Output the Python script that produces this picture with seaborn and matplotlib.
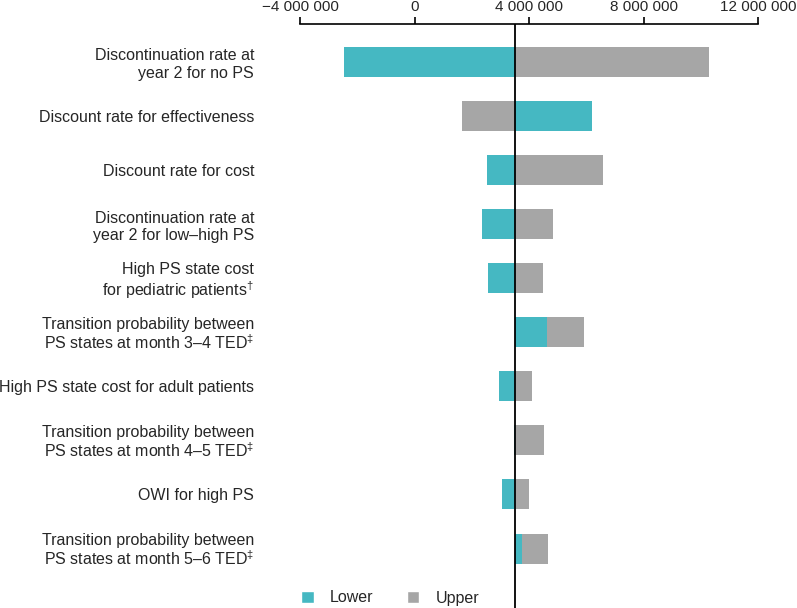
import pandas as pd
import seaborn as sns
import matplotlib.pyplot as plt
from matplotlib.patches import Patch
from matplotlib.ticker import FuncFormatter

# Tornado data (ICER values)
params = [
    'Discontinuation rate at\nyear 2 for no PS',
    'Discount rate for effectiveness',
    'Discount rate for cost',
    'Discontinuation rate at\nyear 2 for low\u2013high PS',
    'High PS state cost\nfor pediatric patients$^{\u2020}$',
    'Transition probability between\nPS states at month 3\u20134 TED$^{\u2021}$',
    'High PS state cost for adult patients',
    'Transition probability between\nPS states at month 4\u20135 TED$^{\u2021}$',
    'OWI for high PS',
    'Transition probability between\nPS states at month 5\u20136 TED$^{\u2021}$',
]
lower = [-2460000, 6200000, 2530000, 2360000, 2580000, 4640000, 2940000, 3470000, 3060000, 3770000]
upper = [10290000, 1660000, 6590000, 4840000, 4480000, 5910000, 4120000, 4510000, 4010000, 4650000]
base = 3520000

tick_vals = [-4000000, 0, 4000000, 8000000, 12000000]

cyan = '#45B8C2'
gray = '#A6A6A6'

df = pd.DataFrame({'param': params, 'lower': lower, 'upper': upper})
df['d_lower'] = df['lower'] - base
df['d_upper'] = df['upper'] - base

sns.set_style('white')
plt.rcParams['font.family'] = ['Liberation Sans', 'DejaVu Sans']
plt.rcParams['mathtext.fontset'] = 'custom'
plt.rcParams['mathtext.rm'] = 'Liberation Sans'
plt.rcParams['mathtext.it'] = 'Liberation Sans'
plt.rcParams['mathtext.default'] = 'regular'

fs = 11.5
fig = plt.figure(figsize=(7.97, 6.08), dpi=100)
ax = fig.add_axes([300 / 797, 0, 458 / 797, 1 - 24 / 608])

# upper first so the lower bar sits on top where they overlap
sns.barplot(data=df, x='d_upper', y='param', color=gray, saturation=1,
            width=0.555, orient='h', ax=ax)
sns.barplot(data=df, x='d_lower', y='param', color=cyan, saturation=1,
            width=0.555, orient='h', ax=ax)

# bars start at the base-case value
for p in ax.patches:
    p.set_x(p.get_x() + base)
    p.set_edgecolor('none')

ax.axvline(base, color='black', lw=1.3, zorder=5)

ax.set_xlim(-4000000, 12000000)
ax.set_ylim(10.1, -0.7)
ax.set_xticks(tick_vals)
ax.xaxis.set_major_formatter(FuncFormatter(
    lambda v, pos: f'{v:,.0f}'.replace(',', ' ').replace('-', '\u2212')))
ax.xaxis.tick_top()
ax.tick_params(axis='x', direction='out', length=5.2, width=1.2, color='black',
               pad=2, labelsize=11)
ax.tick_params(axis='y', length=0, pad=33, labelsize=fs)
for lab in ax.get_yticklabels():
    lab.set_horizontalalignment('right')
    lab.set_multialignment('right')
    # superscript lines are taller; tighten so spacing matches the others
    if '$' in lab.get_text():
        lab.set_linespacing(1.09)
ax.set_xlabel('')
ax.set_ylabel('')

for s in ['bottom', 'left', 'right']:
    ax.spines[s].set_visible(False)
ax.spines['top'].set_color('black')
ax.spines['top'].set_linewidth(1.2)

handles = [Patch(facecolor=cyan, label='Lower'), Patch(facecolor=gray, label='Upper')]
fig.legend(handles=handles, loc='center', bbox_to_anchor=(390 / 797, 1 - 598 / 608),
           ncol=2, frameon=False, fontsize=fs, handlelength=0.8, handleheight=0.8,
           handletextpad=1.0, columnspacing=2.1)

fig.savefig('out.png', dpi=100)
